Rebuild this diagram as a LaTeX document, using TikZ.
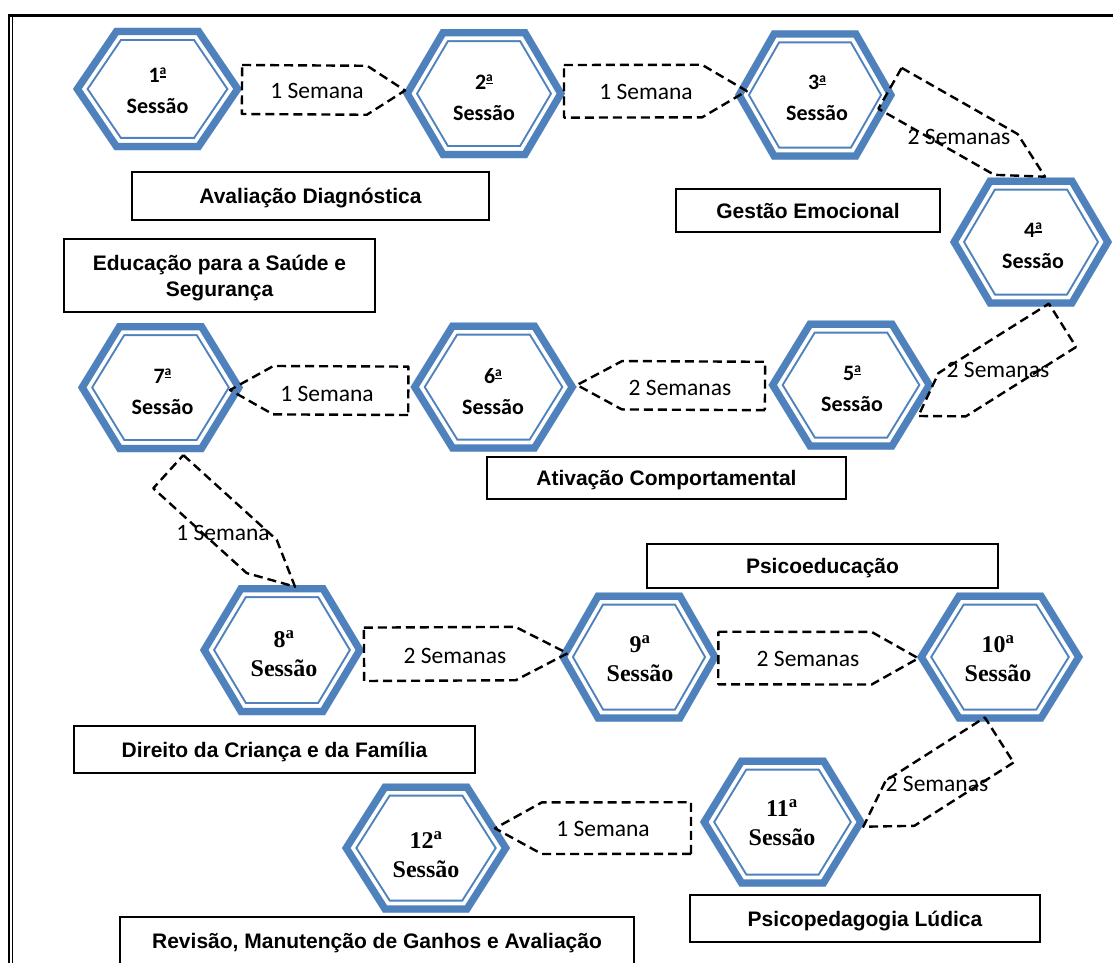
\documentclass[tikz,border=0pt]{standalone}
\usepackage{fontspec}
\setmainfont{Carlito}
\newfontfamily\calfont{Carlito}
\newfontfamily\arialfont{Liberation Sans}
\newfontfamily\timesfont{Liberation Serif}
\usetikzlibrary{calc}
\definecolor{hexblue}{RGB}{79,129,189}

\newcommand\ordA{\raisebox{7.6pt}{\fontsize{13.5}{13.5}\selectfont a}\llap{\rule[4.8pt]{6.6pt}{1.3pt}}}

\newcommand\hexa[4]{%
\begin{scope}[shift={(#1,#2)}]
 \fill[white] (-#3,0) -- (-43,-#4) -- (43,-#4) -- (#3,0) -- (43,#4) -- (-43,#4) -- cycle;
 \clip (-#3,0) -- (-43,-#4) -- (43,-#4) -- (#3,0) -- (43,#4) -- (-43,#4) -- cycle;
 \draw[hexblue,line width=26,line join=miter] (-#3,0) -- (-43,-#4) -- (43,-#4) -- (#3,0) -- (43,#4) -- (-43,#4) -- cycle;
 \draw[white,line width=22,line join=miter] (-#3,0) -- (-43,-#4) -- (43,-#4) -- (#3,0) -- (43,#4) -- (-43,#4) -- cycle;
 \draw[hexblue,line width=14.5,line join=miter] (-#3,0) -- (-43,-#4) -- (43,-#4) -- (#3,0) -- (43,#4) -- (-43,#4) -- cycle;
\end{scope}}

\newcommand\penta[5]{%
 \coordinate (#1q) at ($(#3)!#5!(#2)$);
 \draw[conn] ($(#2)!#4!90:(#3)$) -- ($(#1q)!#4!-90:(#2)$) -- (#3) -- ($(#1q)!#4!90:(#2)$) -- ($(#2)!#4!-90:(#3)$) -- cycle;}

\tikzset{
 conn/.style={draw=black, line width=2.4, dash pattern=on 9pt off 5pt, line join=round},
 sanshex/.style={font=\calfont\bfseries\fontsize{22}{31}\selectfont, align=center, inner sep=0pt},
 serifhex/.style={font=\timesfont\bfseries\fontsize{24}{29}\selectfont, align=center, inner sep=0pt},
 semtxt/.style={font=\calfont\fontsize{23.5}{26}\selectfont, inner sep=0pt, text height=15, text depth=0},
 labbox/.style={draw=black, line width=2.4, fill=white, font=\arialfont\bfseries\fontsize{21}{26}\selectfont, align=center, inner sep=0pt},
 labtxt/.style={font=\arialfont\bfseries\fontsize{21}{26}\selectfont, align=center, inner sep=0pt},
}

\begin{document}
\begin{tikzpicture}[x=1pt,y=-1pt]
\useasboundingbox (0,0) rectangle (1113,963);
\fill[white] (0,0) rectangle (1113,963);

% frame
\draw[line width=3.5] (8,15.75) -- (1113,15.75);
\draw[line width=2.3] (9.2,14) -- (9.2,963);
\draw[line width=1.2] (12.5,17.5) -- (12.5,963);

% hexagons
\hexa{157.5}{89}{84.5}{61}
\hexa{484}{93.6}{81}{64.5}
\hexa{815}{95}{80}{64.5}
\hexa{1031}{242}{81}{64.5}
\hexa{851}{385}{82.5}{64.5}
\hexa{493.5}{387}{83}{64.5}
\hexa{160.5}{387.5}{82.5}{64.5}
\hexa{282}{650}{82}{65}
\hexa{639}{657}{80}{64.5}
\hexa{1000}{657}{83}{64.5}
\hexa{782.5}{822}{82.5}{64.5}
\hexa{426}{848}{84}{64.5}

% session labels
\node[sanshex] (h1) at (157.5,91) {1\ordA\\Sessão};
\node[sanshex] (h2) at (484,97.5) {2\ordA\\Sessão};
\node[sanshex] (h3) at (817,98) {3\ordA\\Sessão};
\node[sanshex] (h4) at (1033,246) {4\ordA\\Sessão};
\node[sanshex] (h5) at (852,388.5) {5\ordA\\Sessão};
\node[sanshex] (h6) at (493,392) {6\ordA\\Sessão};
\node[sanshex] (h7) at (162.5,391.5) {7\ordA\\Sessão};
\node[serifhex] (h8) at (284,654) {8\textsuperscript{a}\\Sessão};
\node[serifhex] (h9) at (640,659) {9\textsuperscript{a}\\Sessão};
\node[serifhex] (h10) at (998,659) {10\textsuperscript{a}\\Sessão};
\node[serifhex] (h11) at (782,823) {11\textsuperscript{a}\\Sessão};
\node[serifhex] (h12) at (426,855) {12\textsuperscript{a}\\Sessão};

% theme boxes
\node[labbox, minimum width=357, minimum height=48, text height=15, text depth=0] (b1) at (310.5,196) {Avaliação Diagnóstica};
\node[labbox, minimum width=264, minimum height=43, text height=15, text depth=0] (b2) at (808,210.5) {Gestão Emocional};
\node[labbox, minimum width=311, minimum height=73] (b3) at (219.5,275.5) {};
\node[labtxt] (b3t) at (b3) [yshift=-2.5pt] {Educação para a Saúde e\\Segurança};
\node[labbox, minimum width=359, minimum height=42, text height=15, text depth=0] (b4) at (666.5,478) {Ativação Comportamental};
\node[labbox, minimum width=351, minimum height=44, text height=15, text depth=0] (b5) at (822.5,566) {Psicoeducação};
\node[labbox, minimum width=401, minimum height=47, text height=15, text depth=0] (b6) at (274.5,749.5) {Direito da Criança e da Família};
\node[labbox, minimum width=350, minimum height=47, text height=15, text depth=0] (b7) at (865,918.5) {Psicopedagogia Lúdica};
\node[labbox, minimum width=514, minimum height=48, text height=15, text depth=0] (b8) at (377,941) {Revisão, Manutenção de Ganhos e Avaliação};

% connectors
\coordinate (c12m) at (242,89.5);   \coordinate (c12t) at (405,90.5);
\coordinate (c23m) at (564,91.3);   \coordinate (c23t) at (746.7,91);
\coordinate (c34m) at (890,88.3);   \coordinate (c34t) at (1045,176.7);
\coordinate (c45m) at (1062.5,325.3); \coordinate (c45t) at (918.3,416);
\coordinate (c56m) at (765,386);    \coordinate (c56t) at (577,385);
\coordinate (c67m) at (408.3,390.8); \coordinate (c67t) at (230,390);
\coordinate (c78m) at (168.3,471.7); \coordinate (c78t) at (295,586.7);
\coordinate (c89m) at (364,654.3);  \coordinate (c89t) at (567.5,653.3);
\coordinate (c910m) at (718.3,658); \coordinate (c910t) at (918.3,658.3);
\coordinate (c1011m) at (999.2,740); \coordinate (c1011t) at (863.3,826.7);
\coordinate (c1112m) at (691,828);  \coordinate (c1112t) at (495,828.3);

\penta{c12}{c12m}{c12t}{24.5pt}{38pt}
\penta{c23}{c23m}{c23t}{26.3pt}{44.7pt}
\penta{c34}{c34m}{c34t}{23.5pt}{45pt}
\penta{c45}{c45m}{c45t}{25.6pt}{40pt}
\penta{c56}{c56m}{c56t}{24.2pt}{45pt}
\penta{c67}{c67m}{c67t}{24.2pt}{43.3pt}
\penta{c78}{c78m}{c78t}{22.4pt}{45pt}
\penta{c89}{c89m}{c89t}{26.7pt}{52pt}
\penta{c910}{c910m}{c910t}{26.3pt}{46.7pt}
\penta{c1011}{c1011m}{c1011t}{26.7pt}{43.5pt}
\penta{c1112}{c1112m}{c1112t}{25.8pt}{46.8pt}

% interval labels
\node[semtxt] (s12) at (317,91) {1 Semana};
\node[semtxt] (s23) at (646,92) {1 Semana};
\node[semtxt] (s34) at (959,137) {2 Semanas};
\node[semtxt] (s45) at (998,370) {2 Semanas};
\node[semtxt] (s56) at (680,388) {2 Semanas};
\node[semtxt] (s67) at (327,394) {1 Semana};
\node[semtxt] (s78) at (223,533) {1 Semana};
\node[semtxt] (s89) at (455,656) {2 Semanas};
\node[semtxt] (s910) at (808,659) {2 Semanas};
\node[semtxt] (s1011) at (937,784) {2 Semanas};
\node[semtxt] (s1112) at (603,829) {1 Semana};
\end{tikzpicture}
\end{document}
